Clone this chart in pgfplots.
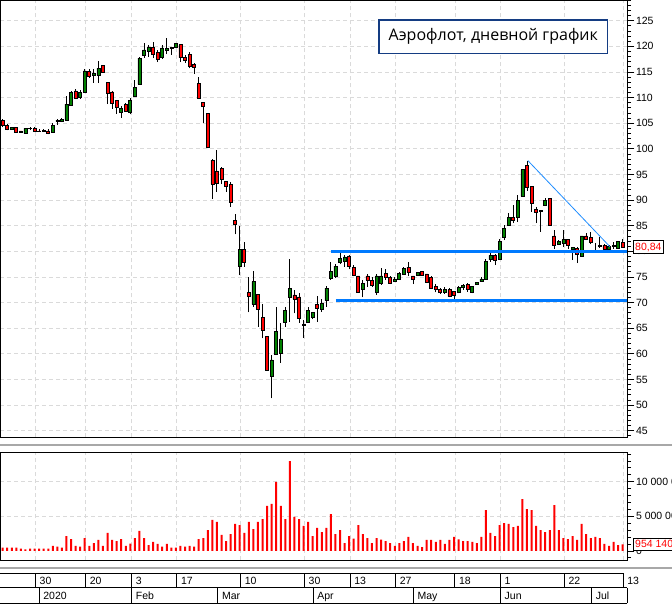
\documentclass[border=0pt]{standalone}
\usepackage{pgfplots}
\usepackage{pgfplotstable}
\pgfplotsset{compat=1.18}
\usepackage{fontspec}
\setmainfont{Liberation Sans}
\newfontfamily\titlefont{Open Sans}
\definecolor{candlered}{RGB}{255,0,0}
\definecolor{candlegreen}{RGB}{0,128,0}
\definecolor{lineblue}{RGB}{0,122,255}
\definecolor{trendblue}{RGB}{30,140,255}
\definecolor{gridgray}{RGB}{218,218,218}
\definecolor{titleblue}{RGB}{20,60,130}
\definecolor{sepgray}{RGB}{168,168,168}

\pgfplotstableread{
i o h l c v
0 105.6 105.8 104.2 104.5 0.47
1 104.6 104.8 103.6 103.8 0.47
2 103.8 104.3 103.7 104.2 0.47
3 104.2 104.3 103.1 103.2 0.47
4 103.5 103.5 103.1 103.2 0.32
5 103.0 104.1 102.9 104.0 0.23
6 103.9 104.3 103.7 104.0 0.32
7 104.0 104.2 103.4 103.5 0.32
8 103.5 103.8 103.3 103.4 0.32
9 103.4 103.9 103.3 103.6 0.32
10 103.5 103.8 102.8 103.0 0.32
11 103.3 105.1 103.2 104.6 0.71
12 105.3 105.8 104.6 105.6 0.61
13 105.3 106.0 105.2 105.7 0.47
14 105.6 110.4 105.5 108.7 2.15
15 108.5 111.2 108.4 111.0 1.72
16 111.3 111.6 109.7 109.9 0.71
17 110.0 111.5 109.8 111.0 0.61
18 111.0 115.6 110.9 115.2 1.86
19 115.1 115.5 113.8 114.1 0.71
20 114.3 115.5 112.9 114.7 1.14
21 114.3 117.1 112.8 115.7 1.58
22 116.2 116.4 114.8 114.9 0.71
23 113.0 113.1 108.7 110.8 2.59
24 111.1 111.2 107.8 108.9 1.58
25 109.5 109.6 106.8 108.0 1.43
26 107.1 108.3 106.1 107.9 1.72
27 108.7 109.0 107.2 107.4 0.71
28 107.1 110.0 106.7 109.5 1.05
29 110.3 113.4 110.2 112.0 1.86
30 112.6 118.0 112.5 117.7 2.88
31 118.2 120.7 117.8 119.3 1.86
32 119.1 120.3 118.0 119.8 0.85
33 119.8 120.8 117.7 118.4 1.29
34 118.8 119.3 116.9 117.5 1.00
35 117.8 120.2 117.5 119.7 0.61
36 119.2 121.6 118.5 119.6 1.00
37 119.6 119.8 118.4 119.8 0.47
38 119.8 120.5 119.8 120.5 0.47
39 120.3 120.4 116.9 117.8 0.71
40 117.8 118.3 116.8 117.3 0.61
41 118.4 118.8 115.7 116.0 0.71
42 116.4 116.7 114.6 115.9 0.61
43 112.7 114.0 109.7 109.8 1.72
44 109.1 109.2 105.0 108.2 1.86
45 106.9 106.9 100.1 100.2 3.02
46 97.8 98.1 90.3 93.1 4.47
47 95.7 99.8 91.6 93.3 4.18
48 96.2 96.4 93.1 94.0 2.30
49 93.6 93.6 91.6 92.7 1.43
50 93.1 93.6 88.7 89.6 2.44
51 86.1 87.2 83.3 85.3 3.89
52 77.1 84.9 75.3 80.4 3.74
53 80.4 81.8 77.0 77.8 2.59
54 72.0 74.9 68.1 71.2 4.18
55 69.7 76.1 69.2 74.1 3.16
56 71.6 71.6 65.3 68.7 4.18
57 67.1 69.7 63.0 64.6 4.61
58 63.4 63.4 56.8 56.8 6.49
59 55.7 59.8 51.3 58.8 6.78
60 59.9 69.2 59.9 64.4 9.96
61 60.1 66.1 58.3 62.9 6.49
62 66.1 69.2 65.3 68.5 4.61
63 71.1 78.5 66.3 72.8 12.99
64 71.5 72.5 67.9 70.6 4.90
65 71.1 71.8 66.1 66.9 4.61
66 65.8 66.6 63.1 65.6 3.60
67 66.1 69.1 66.1 68.5 4.18
68 67.1 68.1 66.7 68.1 2.15
69 69.6 71.3 66.3 68.9 3.31
70 68.6 70.6 68.2 69.9 2.73
71 70.4 73.3 69.2 72.8 3.31
72 74.8 77.9 74.5 76.0 5.33
73 75.2 77.6 74.8 77.1 2.44
74 77.8 79.6 77.5 78.6 3.02
75 78.0 79.3 77.0 78.9 1.14
76 79.1 79.3 76.5 77.1 2.15
77 76.9 77.3 75.1 75.4 1.77
78 75.2 75.2 72.0 72.0 3.74
79 72.6 74.4 71.0 73.8 2.44
80 75.2 75.6 73.1 74.4 1.86
81 74.4 75.0 73.0 73.3 1.14
82 72.0 75.5 71.5 75.2 1.86
83 73.8 76.8 73.5 75.2 1.62
84 75.7 76.5 74.5 75.0 1.43
85 74.9 75.1 73.6 73.8 1.14
86 74.2 74.9 74.0 74.6 0.71
87 74.6 76.0 74.4 75.7 1.14
88 75.6 77.0 75.4 76.7 1.43
89 76.9 78.0 75.1 75.9 2.01
90 75.2 75.2 73.6 74.5 1.14
91 75.4 76.0 75.2 75.8 0.71
92 76.0 76.2 75.2 75.3 0.56
93 75.6 75.6 73.8 74.0 1.58
94 74.9 75.2 72.6 72.8 1.58
95 73.2 73.6 72.0 72.5 1.29
96 72.5 72.9 71.7 71.9 1.58
97 71.9 73.0 71.7 72.6 1.00
98 72.5 72.8 71.0 71.2 1.58
99 72.1 72.2 70.2 71.5 2.01
100 71.9 73.2 71.8 72.9 1.67
101 72.9 73.7 72.5 73.4 1.43
102 73.6 73.9 72.1 72.6 1.43
103 71.9 73.1 71.8 73.1 1.29
104 73.6 74.0 73.5 73.9 1.14
105 74.1 75.0 74.1 74.6 2.01
106 74.5 78.5 74.5 78.1 5.91
107 78.4 79.6 78.0 79.2 2.59
108 79.2 79.4 77.3 78.3 2.15
109 78.4 82.5 78.4 82.0 3.74
110 82.7 85.1 82.2 84.5 4.03
111 85.0 87.5 85.0 86.6 3.89
112 86.6 89.0 85.5 86.0 3.45
113 86.6 91.0 85.8 90.0 3.60
114 90.7 95.9 90.7 95.9 7.50
115 96.8 97.7 91.8 92.5 6.05
116 92.7 92.7 87.7 89.4 5.91
117 88.1 88.6 85.5 87.7 3.60
118 87.9 88.1 83.8 87.8 3.02
119 89.0 90.5 88.8 89.9 2.73
120 90.3 90.5 85.0 85.0 3.02
121 83.0 84.2 80.5 81.2 6.63
122 81.4 82.2 81.2 81.9 3.02
123 81.6 84.2 80.9 82.3 1.86
124 82.3 82.5 80.5 81.2 1.72
125 80.3 80.9 78.3 80.7 2.15
126 80.6 80.9 77.7 79.4 1.58
127 79.0 83.0 79.0 83.0 3.89
128 83.0 83.5 82.2 82.3 2.44
129 82.7 83.7 81.4 81.8 1.86
130 81.2 81.7 80.1 81.2 2.01
131 80.9 82.7 80.6 81.1 1.86
132 81.2 81.5 80.3 80.4 1.00
133 80.4 81.2 80.3 81.0 0.71
134 81.0 81.9 80.5 81.1 1.29
135 80.6 82.0 80.5 81.9 0.85
136 81.8 82.5 80.7 80.84 0.954
}\data

\pgfplotsset{
  common/.style={
    anchor=south west, scale only axis,
    x=4.559pt, xmin=-0.586, xmax=137.05,
    enlargelimits=false,
  },
  pricey/.style={at={(0pt,168.7pt)}, y=5.125pt, ymin=43.71, ymax=129.04},
  voly/.style={at={(0pt,46pt)}, y=6.92pt, ymin=-1.315, ymax=14.25},
  framed/.style={
    axis line style={line width=0.9pt, black},
    xtick={7.2,18.2,28.3,38.2,52.2,66.2,76.2,86.2,99.2,109.2,123.2,136.1},
    xticklabels={}, xtick style={draw=none},
    ytick pos=right, yticklabel pos=right, tick align=outside,
    major tick length=7pt, minor tick length=3.7pt,
    ytick style={black, line width=0.8pt},
    grid=major,
    major grid style={draw=gridgray, dash pattern=on 4pt off 3pt, line width=0.8pt},
    yticklabel style={font=\fontsize{10.5}{10.5}\selectfont, xshift=-2pt},
    /pgf/number format/assume math mode=true,
    clip mode=individual,
  },
}

\begin{document}
\begin{tikzpicture}
% separators
\draw[draw=sepgray, line width=2pt] (0pt,161pt) -- (672pt,161pt);
\draw[draw=sepgray, line width=2pt] (0pt,38.3pt) -- (672pt,38.3pt);

% price panel: frame, grid, wicks
\begin{axis}[common, pricey, framed,
  ytick={45,50,...,125}, minor ytick={44,45,...,129}]
\addplot[draw=none, no markers,
  error bars/.cd, y dir=plus, y explicit,
  error bar style={draw=black, line width=0.9pt}, error mark=none]
  table[x=i, y=l, y error expr=\thisrow{h}-\thisrow{l}] {\data};
\end{axis}

% candle bodies
\begin{axis}[common, pricey, hide axis, ybar stacked, bar width=3pt, clip mode=individual]
\addplot[draw=none, fill=none] table[x=i, y expr={min(\thisrow{o},\thisrow{c})}] {\data};
\addplot[fill=candlered, draw=black, line width=0.7pt]
  table[x=i, y expr={\thisrow{o}>\thisrow{c} ? \thisrow{o}-\thisrow{c} : 0}] {\data};
\addplot[fill=candlegreen, draw=black, line width=0.7pt]
  table[x=i, y expr={\thisrow{c}>\thisrow{o} ? \thisrow{c}-\thisrow{o} : 0}] {\data};
\end{axis}

% support lines, trend line, last price
\begin{axis}[common, pricey, hide axis, clip=false]
\addplot[color=lineblue, line width=3pt] coordinates {(72.0,80.0) (137.05,80.0)};
\addplot[color=lineblue, line width=3pt] coordinates {(73.1,70.5) (137.05,70.5)};
\addplot[color=trendblue, line width=0.8pt] coordinates {(115.2,97.7) (133.2,80.9)};
\node[anchor=west, draw=black, line width=0.8pt, fill=white, inner sep=1.5pt,
  minimum height=12.6pt, text=candlered, font=\fontsize{10.5}{10.5}\selectfont, xshift=5.8pt]
  at (axis cs:137.05,80.84) {80,84};
\end{axis}

% volume panel
\begin{axis}[common, voly, framed,
  ytick={5,10}, yticklabels={5 000 000,10 000 000},
  extra y ticks={0}, extra y tick labels={0}, extra y tick style={grid=none},
  minor ytick={-1,0,...,14}]
\addplot[ybar, bar width=2pt, fill=candlered, draw=none] table[x=i, y=v] {\data};
\node[anchor=west, draw=black, line width=0.8pt, fill=white, inner sep=1.5pt,
  minimum height=12.6pt, text=candlered, font=\fontsize{10.5}{10.5}\selectfont, xshift=5.8pt]
  at (axis cs:137.05,0.954) {954 140};
\end{axis}

% date band
\begin{axis}[common, at={(0pt,2.7pt)}, y=1pt, ymin=0, ymax=30, hide axis, clip=false]
\draw[line width=0.9pt] (axis cs:-0.586,30) -- (axis cs:136.3,30);
\draw[line width=0.9pt] (axis cs:-0.586,15.6) -- (axis cs:137.05,15.6);
\draw[line width=0.9pt] (axis cs:-0.586,0) -- (axis cs:137.05,0);
\draw[line width=0.9pt] (axis cs:137.05,0) -- (axis cs:137.05,15.6);
\draw[line width=0.9pt] (axis cs:7.2,15.6) -- (axis cs:7.2,30);
\draw[line width=0.9pt] (axis cs:18.2,15.6) -- (axis cs:18.2,30);
\draw[line width=0.9pt] (axis cs:28.3,15.6) -- (axis cs:28.3,30);
\draw[line width=0.9pt] (axis cs:38.2,15.6) -- (axis cs:38.2,30);
\draw[line width=0.9pt] (axis cs:52.2,15.6) -- (axis cs:52.2,30);
\draw[line width=0.9pt] (axis cs:66.2,15.6) -- (axis cs:66.2,30);
\draw[line width=0.9pt] (axis cs:76.2,15.6) -- (axis cs:76.2,30);
\draw[line width=0.9pt] (axis cs:86.2,15.6) -- (axis cs:86.2,30);
\draw[line width=0.9pt] (axis cs:99.2,15.6) -- (axis cs:99.2,30);
\draw[line width=0.9pt] (axis cs:109.2,15.6) -- (axis cs:109.2,30);
\draw[line width=0.9pt] (axis cs:123.2,15.6) -- (axis cs:123.2,30);
\draw[line width=0.9pt] (axis cs:136.1,15.6) -- (axis cs:136.1,30);
\draw[line width=0.9pt] (axis cs:8.0,0) -- (axis cs:8.0,15.6);
\draw[line width=0.9pt] (axis cs:28.3,0) -- (axis cs:28.3,15.6);
\draw[line width=0.9pt] (axis cs:47.2,0) -- (axis cs:47.2,15.6);
\draw[line width=0.9pt] (axis cs:68.1,0) -- (axis cs:68.1,15.6);
\draw[line width=0.9pt] (axis cs:90.1,0) -- (axis cs:90.1,15.6);
\draw[line width=0.9pt] (axis cs:109.2,0) -- (axis cs:109.2,15.6);
\draw[line width=0.9pt] (axis cs:129.2,0) -- (axis cs:129.2,15.6);
\begin{scope}[every node/.style={anchor=base west, inner sep=0, xshift=4pt, font=\fontsize{10.5}{10.5}\selectfont}]
\node at (axis cs:7.2,18.6) {30};
\node at (axis cs:18.2,18.6) {20};
\node at (axis cs:28.3,18.6) {3};
\node at (axis cs:38.2,18.6) {17};
\node at (axis cs:52.2,18.6) {10};
\node at (axis cs:66.2,18.6) {30};
\node at (axis cs:76.2,18.6) {13};
\node at (axis cs:86.2,18.6) {27};
\node at (axis cs:99.2,18.6) {18};
\node at (axis cs:109.2,18.6) {1};
\node at (axis cs:123.2,18.6) {22};
\node at (axis cs:136.1,18.6) {13};
\node at (axis cs:8.0,4.0) {2020};
\node at (axis cs:28.3,4.0) {Feb};
\node at (axis cs:47.2,4.0) {Mar};
\node at (axis cs:68.1,4.0) {Apr};
\node at (axis cs:90.1,4.0) {May};
\node at (axis cs:109.2,4.0) {Jun};
\node at (axis cs:129.2,4.0) {Jul};
\end{scope}
\end{axis}

% title box
\node[draw=titleblue, line width=1.2pt, fill=white, minimum width=228.5pt, minimum height=33.3pt,
  inner sep=0, font=\titlefont\fontsize{16}{16}\selectfont] at (493.3pt,569.3pt)
  {Аэрофлот, дневной график};

\pgfresetboundingbox
\path[use as bounding box] (0pt,0pt) rectangle (672pt,606pt);
\end{tikzpicture}
\end{document}
